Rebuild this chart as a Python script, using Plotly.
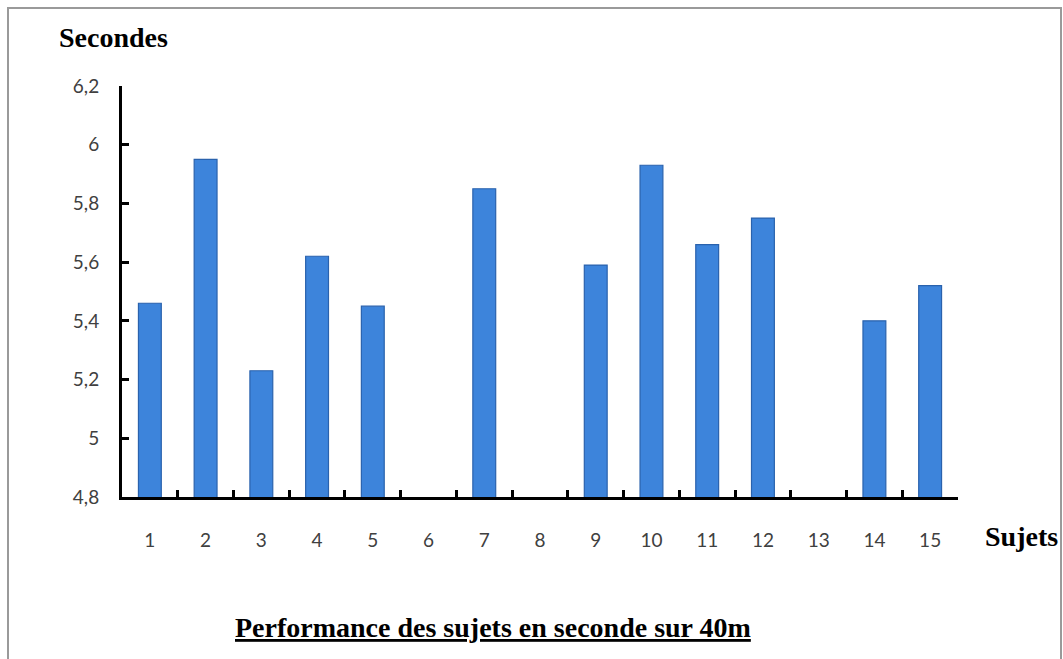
import plotly.graph_objects as go

# Performance au 40 m par sujet (secondes); None = pas de mesure
sujets = [str(i) for i in range(1, 16)]
secondes = [5.46, 5.95, 5.23, 5.62, 5.45, None, 5.85, None, 5.59, 5.93,
            5.66, 5.75, None, 5.40, 5.52]

y_ticks = [4.8, 5.0, 5.2, 5.4, 5.6, 5.8, 6.0, 6.2]
y_labels = ["4,8", "5", "5,2", "5,4", "5,6", "5,8", "6", "6,2"]

W, H = 1063, 659
L, R, T, B = 122, 105, 86, 162
PW, PH = W - L - R, H - T - B


def px(x):
    return (x - L) / PW


def py(y):
    return (H - B - y) / PH


fig = go.Figure()
fig.add_trace(go.Bar(
    x=sujets, y=secondes,
    marker=dict(color="#3d84db", line=dict(color="#2a62ad", width=1.2)),
    width=0.41,
))

serif = "Liberation Serif"
sans = "Lato"

fig.update_layout(
    width=W, height=H,
    margin=dict(l=L, r=R, t=T, b=B),
    paper_bgcolor="white", plot_bgcolor="white",
    showlegend=False,
    xaxis=dict(
        type="category", categoryorder="array", categoryarray=sujets,
        showline=True, linecolor="black", linewidth=3,
        ticks="inside", tickson="boundaries", ticklen=7, tickwidth=3,
        tickcolor="black", showgrid=False, zeroline=False,
        tickfont=dict(family=sans, size=19, color="#404040"),
        ticklabelstandoff=24,
    ),
    yaxis=dict(
        range=[4.8, 6.2], tickvals=y_ticks, ticktext=y_labels,
        showline=True, linecolor="black", linewidth=3,
        ticks="inside", ticklen=7, tickwidth=3, tickcolor="black",
        showgrid=False, zeroline=False,
        tickfont=dict(family=sans, size=19, color="#404040"),
        ticklabelstandoff=16,
    ),
    shapes=[dict(type="rect", xref="paper", yref="paper",
                 x0=px(8), x1=px(1061), y0=py(680), y1=py(8),
                 line=dict(color="#9a9a9a", width=2), layer="below")],
    annotations=[
        dict(text="<b>Secondes</b>", xref="paper", yref="paper",
             x=px(57), y=py(38), xanchor="left", yanchor="middle",
             showarrow=False,
             font=dict(family=serif, size=28, color="black")),
        dict(text="<b>Sujets</b>", xref="paper", yref="paper",
             x=px(983), y=py(536), xanchor="left", yanchor="middle",
             showarrow=False,
             font=dict(family=serif, size=28, color="black")),
        dict(text="<b><u>Performance des sujets en seconde sur 40m</u></b>",
             xref="paper", yref="paper",
             x=px(493), y=py(627), xanchor="center", yanchor="middle",
             showarrow=False,
             font=dict(family=serif, size=28, color="black")),
    ],
)

fig.write_html("out.html")
